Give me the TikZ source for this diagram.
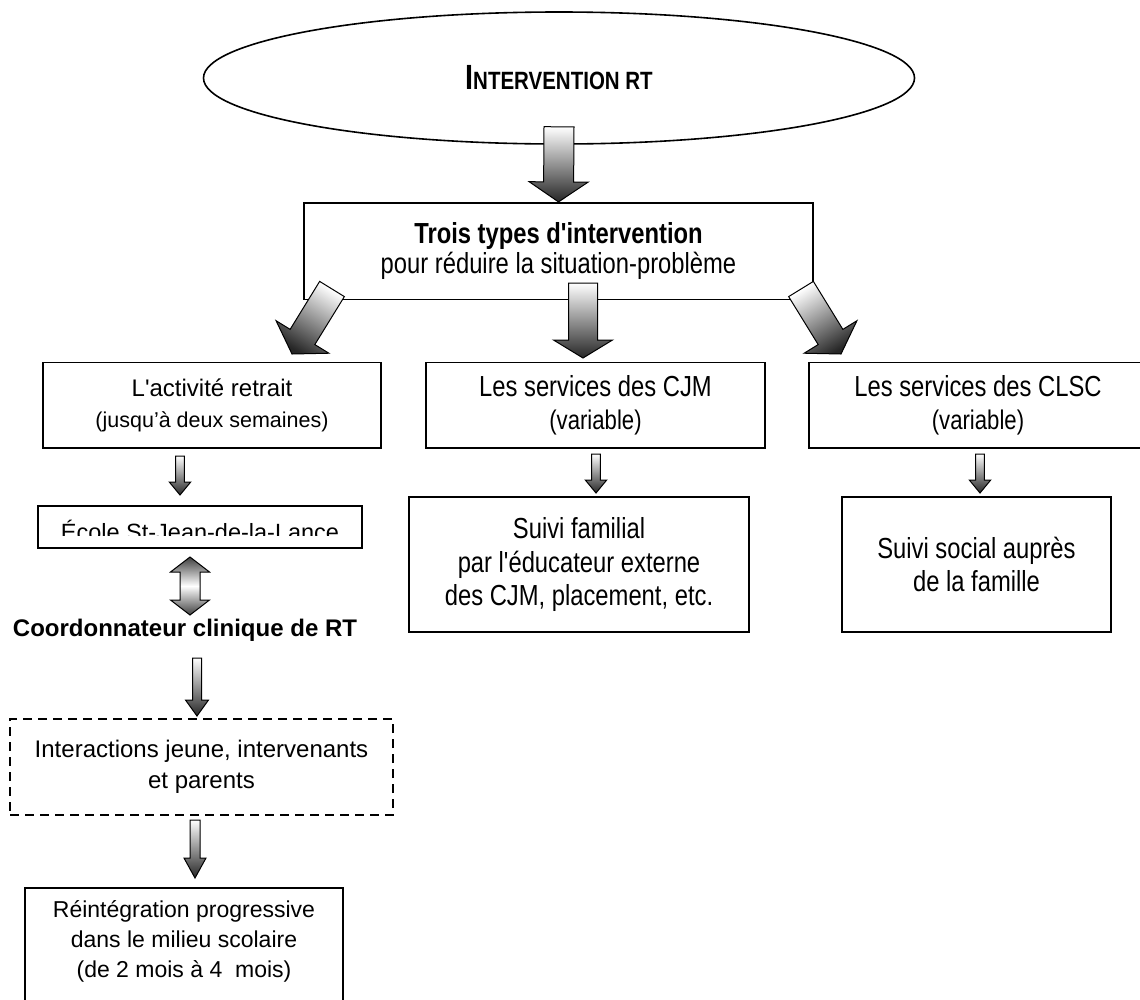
\documentclass[tikz,border=0pt]{standalone}
\usepackage{fontspec}
\setmainfont{Liberation Sans}[Ligatures=TeXOff]
\newfontfamily\narrowfont{Liberation Sans}[FakeStretch=0.82,Ligatures=TeXOff]
\usetikzlibrary{calc,shapes.geometric}

\tikzset{
  boxnode/.style={draw,line width=1.6pt,rectangle,inner sep=0pt,align=center},
  dashbox/.style={boxnode,dash pattern=on 9pt off 6pt},
  fatshade/.style={draw=black,line width=1pt,top color=white,bottom color=black!85},
  twoshade/.style={draw=black,line width=1pt,top color=black!75,bottom color=black!75,middle color=white},
  plaintext/.style={font=\fontsize{24}{31}\selectfont},
  narrowtext/.style={font=\narrowfont\fontsize{29}{32.5}\selectfont},
}

% block arrow: [style]{from}{to}{shaft half width}{head half width}{head length}
\newcommand{\fatarrow}[6][]{%
  \coordinate (fa-h) at ($(#3)!#6!(#2)$);
  \draw[fatshade,#1] ($(#2)!#4!90:(#3)$)
    -- ($(fa-h)!#4!-90:(#2)$) -- ($(fa-h)!#5!-90:(#2)$) -- (#3)
    -- ($(fa-h)!#5!90:(#2)$) -- ($(fa-h)!#4!90:(#2)$)
    -- ($(#2)!#4!-90:(#3)$) -- cycle;
}
% block arrow with two heads
\newcommand{\fatdarrow}[6][]{%
  \coordinate (fa-h) at ($(#3)!#6!(#2)$);
  \coordinate (fa-t) at ($(#2)!#6!(#3)$);
  \draw[twoshade,#1] (#2)
    -- ($(fa-t)!#5!90:(#3)$) -- ($(fa-t)!#4!90:(#3)$)
    -- ($(fa-h)!#4!-90:(#2)$) -- ($(fa-h)!#5!-90:(#2)$) -- (#3)
    -- ($(fa-h)!#5!90:(#2)$) -- ($(fa-h)!#4!90:(#2)$)
    -- ($(fa-t)!#4!-90:(#3)$) -- ($(fa-t)!#5!-90:(#3)$) -- cycle;
}

\begin{document}
\begin{tikzpicture}[x=1pt,y=-1pt]
\clip (0,0) rectangle (1140,999);

% top of the chart
\node[ellipse,draw,line width=1.6pt,minimum width=711pt,minimum height=132pt,inner sep=0pt,
  font=\narrowfont\bfseries] (title) at (559,78)
  {{\fontsize{35}{35}\selectfont I}{\fontsize{25}{25}\selectfont NTERVENTION RT}};
\node[boxnode,minimum width=509pt,minimum height=96.6pt,
  font=\narrowfont\fontsize{29}{29.5}\selectfont] (types) at (558.5,251)
  {\textbf{Trois types d'intervention}\\pour réduire la situation-problème};

% the three services
\node[boxnode,minimum width=338pt,minimum height=85.5pt,plaintext] (retrait) at (212,405.3)
  {L'activité retrait\\{\fontsize{21.5}{26}\selectfont (jusqu’à deux semaines)}};
\node[boxnode,minimum width=339pt,minimum height=85.5pt,narrowtext] (cjm) at (595.5,405.3)
  {Les services des CJM\\{\fontsize{27}{32}\selectfont (variable)}};
\node[boxnode,minimum width=338pt,minimum height=85.5pt,narrowtext] (clsc) at (978,405.3)
  {Les services des CLSC\\{\fontsize{27}{32}\selectfont (variable)}};

% left column
\node[boxnode,minimum width=324pt,minimum height=42pt] (ecole) at (200,527) {};
\begin{scope}
  \clip (ecole.north west) rectangle (362,535.5);
  \node[font=\fontsize{23.5}{28}\selectfont,anchor=base] (ecoletext) at (200,540)
    {École St-Jean-de-la-Lance};
\end{scope}
\node[font=\bfseries\fontsize{24}{28}\selectfont] (coord) at (185,630)
  {Coordonnateur clinique de RT};
\node[dashbox,minimum width=383pt,minimum height=96pt,plaintext] (interact) at (201.5,767)
  {Interactions jeune, intervenants\\et parents};
\node[boxnode,minimum width=318pt,minimum height=140pt,anchor=north] (reintbox) at (184,887) {};
\node[font=\fontsize{23}{30}\selectfont,align=center] (reint) at (184,941)
  {Réintégration progressive\\dans le milieu scolaire\\(de 2 mois à 4\ \ mois)};

% follow-up boxes
\node[boxnode,minimum width=340pt,minimum height=135pt,
  font=\narrowfont\fontsize{29}{33.3}\selectfont] (famcjm) at (579,564.5)
  {Suivi familial\\par l'éducateur externe\\des CJM, placement, etc.};
\node[boxnode,minimum width=269pt,minimum height=135pt,
  font=\narrowfont\fontsize{29}{33.3}\selectfont] (socclsc) at (976.5,564.5)
  {Suivi social auprès\\de la famille};

% arrow ends
\coordinate (a0) at ($(title.south)+(0,-18)$);
\coordinate (m0) at (583,283);
\coordinate (m1) at (583,358);
\coordinate (l0) at (332,289);
\coordinate (l1) at (292,354);
\coordinate (r0) at (801,289);
\coordinate (r1) at (841,354);
\coordinate (s1a) at (180,456);
\coordinate (s1b) at (180,495);
\coordinate (s2a) at (596,454);
\coordinate (s2b) at (596,493);
\coordinate (s3a) at (980,454);
\coordinate (s3b) at (980,493);
\coordinate (d0) at (190,557);
\coordinate (d1) at (190,615);
\coordinate (c0) at (197,658);
\coordinate (c1) at (197,716);
\coordinate (i0) at (195,820);
\coordinate (i1) at (195,878);

% block arrows
\fatarrow{a0}{types.north}{15pt}{29.5pt}{20pt}
\fatarrow{m0}{m1}{14.5pt}{29.5pt}{18pt}
\fatarrow[shading angle=-31]{l0}{l1}{14.5pt}{31pt}{20pt}
\fatarrow[shading angle=31]{r0}{r1}{14.5pt}{31pt}{20pt}
\fatarrow{s1a}{s1b}{4.3pt}{10.7pt}{13pt}
\fatarrow{s2a}{s2b}{4.3pt}{10.7pt}{13pt}
\fatarrow{s3a}{s3b}{4.3pt}{10.7pt}{13pt}
\fatdarrow{d0}{d1}{10pt}{19.5pt}{15pt}
\fatarrow{c0}{c1}{4.5pt}{11.5pt}{16pt}
\fatarrow{i0}{i1}{5pt}{11pt}{20pt}
\end{tikzpicture}
\end{document}
